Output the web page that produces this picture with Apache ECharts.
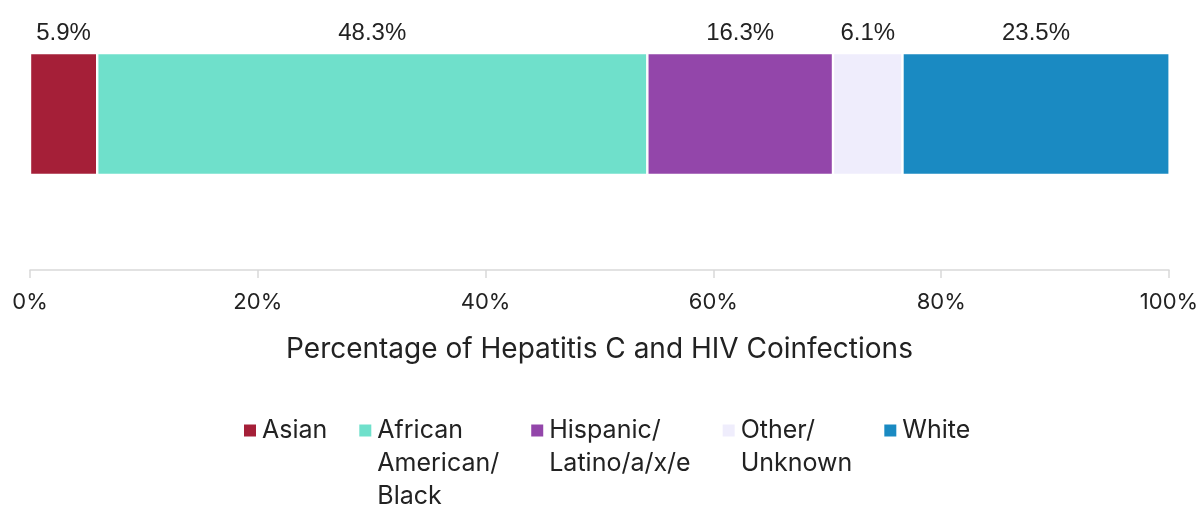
<!DOCTYPE html>
<html><head><meta charset="utf-8">
<script src="https://cdn.jsdelivr.net/npm/echarts@6/dist/echarts.min.js"></script>
<style>html,body{margin:0;padding:0;background:#fff}#c{width:1204px;height:505px}</style>
</head><body><div id="c"></div>
<script>
const categories = ['Asian', 'African American/Black', 'Hispanic/Latino/a/x/e', 'Other/Unknown', 'White'];
const legendLabels = ['Asian', 'African\nAmerican/\nBlack', 'Hispanic/\nLatino/a/x/e', 'Other/\nUnknown', 'White'];
const values = [5.9, 48.3, 16.3, 6.1, 23.5];
const colors = ['#A51F38', '#6FE0CB', '#9346AA', '#EFEDFC', '#1A8AC2'];
const tickValues = [0, 20, 40, 60, 80, 100];
const axisTitle = 'Percentage of Hepatitis C and HIV Coinfections';

const chart = echarts.init(document.getElementById('c'), null, {renderer: 'canvas'});
const series = categories.map((name, i) => ({
  name: name,
  type: 'bar',
  stack: 'total',
  barWidth: '100%',
  data: [values[i]],
  itemStyle: {color: colors[i], borderColor: '#ffffff', borderWidth: 1.2},
  label: {
    show: true, position: 'top', distance: 8,
    formatter: (p) => p.value.toFixed(1) + '%',
    color: '#222', fontSize: 24, fontFamily: 'Liberation Sans'
  },
  emphasis: {disabled: true}
}));
const legendMap = {};
categories.forEach((c, i) => {
  const lines = legendLabels[i].split('\n');
  legendMap[c] = '\n'.repeat(lines.length - 1) + legendLabels[i];
});
chart.setOption({
  animation: false,
  grid: {left: 30, right: 35, top: 53, bottom: 330, containLabel: false},
  xAxis: {
    type: 'value', min: 0, max: 100, interval: 20, offset: 95,
    axisLine: {show: true, lineStyle: {color: '#d9d9d9', width: 1.5}},
    axisTick: {show: true, length: 8, lineStyle: {color: '#d9d9d9', width: 1.5}},
    splitLine: {show: false},
    axisLabel: {formatter: (v) => tickValues.includes(v) ? v + '%' : '', margin: 21, color: '#222', fontSize: 22, fontFamily: 'Inter'},
    name: axisTitle, nameLocation: 'middle', nameGap: 66,
    nameTextStyle: {color: '#222', fontSize: 28, fontFamily: 'Inter'}
  },
  yAxis: {type: 'category', data: [''], show: false},
  legend: {
    left: 237, top: 343, orient: 'horizontal',
    itemWidth: 14, itemHeight: 14, itemGap: 30,
    icon: 'rect',
    data: categories,
    formatter: (n) => legendMap[n],
    textStyle: {color: '#222', fontSize: 25, fontFamily: 'Inter', lineHeight: 33}
  },
  series: series
});
</script></body></html>
